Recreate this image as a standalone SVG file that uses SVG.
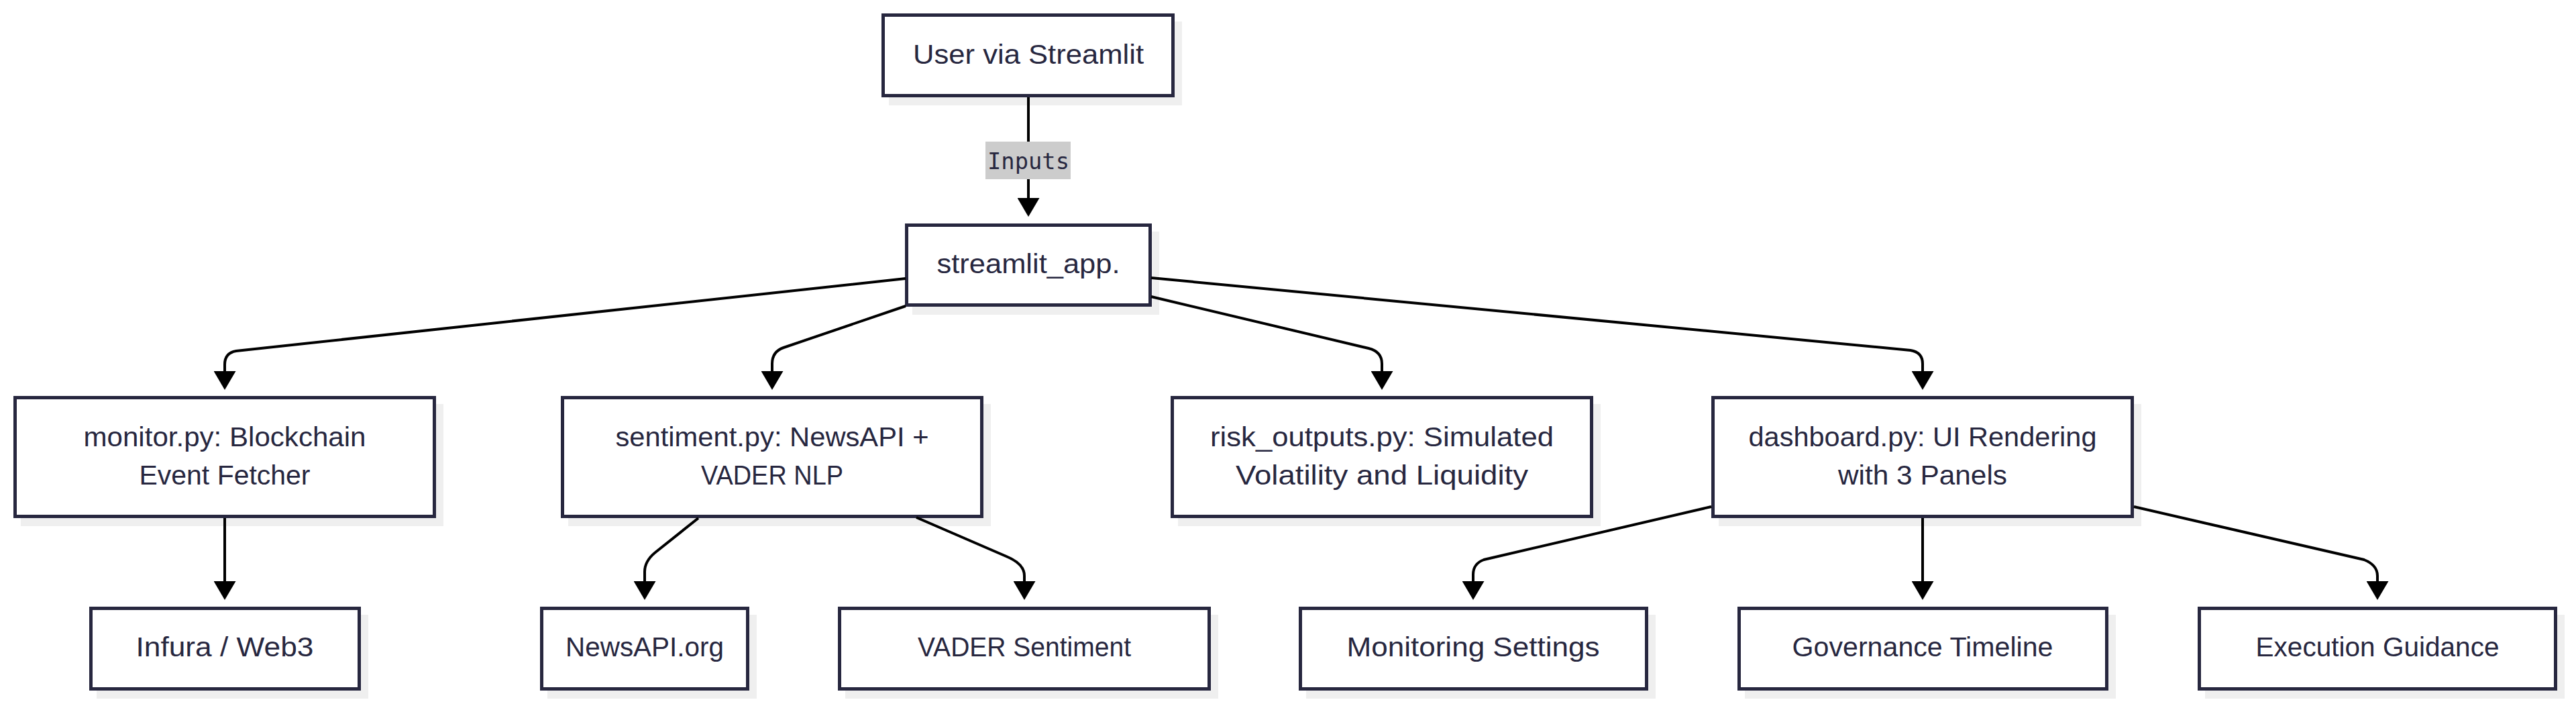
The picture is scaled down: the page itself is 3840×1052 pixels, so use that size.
<svg xmlns="http://www.w3.org/2000/svg" width="3840" height="1052" viewBox="0 0 3840 1052">
<defs>
<marker id="arrow" viewBox="0 0 28 33" refX="8" refY="16.5" markerWidth="28" markerHeight="33" markerUnits="userSpaceOnUse" orient="auto">
<path d="M0,0 L28,16.5 L0,33 z" fill="#000"/>
</marker>
</defs>
<style>
.shadow{fill:#efefef;stroke:none}
.box{fill:#ffffff;stroke:#27273f;stroke-width:5}
.lbl{font-family:"Liberation Sans",Arial,sans-serif;font-size:41px;fill:#27273f;text-anchor:middle}
.edge{fill:none;stroke:#000;stroke-width:4;marker-end:url(#arrow)}
.elbg{fill:#cccccc}
.eltxt{font-family:"DejaVu Sans Mono","Liberation Mono",monospace;font-size:34px;fill:#27273f;text-anchor:middle}
</style>
<rect width="3840" height="1052" fill="#ffffff"/>

<g id="user">
<rect class="shadow" x="1325" y="32" width="437" height="125"/>
<rect class="box" x="1316.5" y="22.5" width="432" height="120"/>
<text class="lbl" x="1533" y="95" textLength="344" lengthAdjust="spacingAndGlyphs">User via Streamlit</text>
</g>

<g id="streamlit_app">
<rect class="shadow" x="1360" y="345" width="368" height="124"/>
<rect class="box" x="1351.5" y="335.5" width="363" height="119"/>
<text class="lbl" x="1533" y="407" textLength="273" lengthAdjust="spacingAndGlyphs">streamlit_app.</text>
</g>

<g id="monitor">
<rect class="shadow" x="31" y="602" width="630" height="182"/>
<rect class="box" x="22.5" y="592.5" width="625" height="177"/>
<text class="lbl" x="335" y="665" textLength="421" lengthAdjust="spacingAndGlyphs">monitor.py: Blockchain</text>
<text class="lbl" x="335" y="722" textLength="255" lengthAdjust="spacingAndGlyphs">Event Fetcher</text>
</g>

<g id="sentiment">
<rect class="shadow" x="847" y="602" width="630" height="182"/>
<rect class="box" x="838.5" y="592.5" width="625" height="177"/>
<text class="lbl" x="1151" y="665" textLength="467" lengthAdjust="spacingAndGlyphs">sentiment.py: NewsAPI +</text>
<text class="lbl" x="1151" y="722" textLength="212" lengthAdjust="spacingAndGlyphs">VADER NLP</text>
</g>

<g id="risk">
<rect class="shadow" x="1756" y="602" width="630" height="182"/>
<rect class="box" x="1747.5" y="592.5" width="625" height="177"/>
<text class="lbl" x="2060" y="665" textLength="512" lengthAdjust="spacingAndGlyphs">risk_outputs.py: Simulated</text>
<text class="lbl" x="2060" y="722" textLength="436" lengthAdjust="spacingAndGlyphs">Volatility and Liquidity</text>
</g>

<g id="dashboard">
<rect class="shadow" x="2562" y="602" width="630" height="182"/>
<rect class="box" x="2553.5" y="592.5" width="625" height="177"/>
<text class="lbl" x="2866" y="665" textLength="519" lengthAdjust="spacingAndGlyphs">dashboard.py: UI Rendering</text>
<text class="lbl" x="2866" y="722" textLength="252" lengthAdjust="spacingAndGlyphs">with 3 Panels</text>
</g>

<g id="infura">
<rect class="shadow" x="144" y="916" width="405" height="125"/>
<rect class="box" x="135.5" y="906.5" width="400" height="120"/>
<text class="lbl" x="335" y="978" textLength="265" lengthAdjust="spacingAndGlyphs">Infura / Web3</text>
</g>

<g id="newsapi">
<rect class="shadow" x="816" y="916" width="312" height="125"/>
<rect class="box" x="807.5" y="906.5" width="307" height="120"/>
<text class="lbl" x="961" y="978" textLength="236" lengthAdjust="spacingAndGlyphs">NewsAPI.org</text>
</g>

<g id="vader">
<rect class="shadow" x="1260" y="916" width="556" height="125"/>
<rect class="box" x="1251.5" y="906.5" width="551" height="120"/>
<text class="lbl" x="1527" y="978" textLength="318" lengthAdjust="spacingAndGlyphs">VADER Sentiment</text>
</g>

<g id="monitoring_settings">
<rect class="shadow" x="1947" y="916" width="521" height="125"/>
<rect class="box" x="1938.5" y="906.5" width="516" height="120"/>
<text class="lbl" x="2196" y="978" textLength="377" lengthAdjust="spacingAndGlyphs">Monitoring Settings</text>
</g>

<g id="governance_timeline">
<rect class="shadow" x="2601" y="916" width="553" height="125"/>
<rect class="box" x="2592.5" y="906.5" width="548" height="120"/>
<text class="lbl" x="2866" y="978" textLength="389" lengthAdjust="spacingAndGlyphs">Governance Timeline</text>
</g>

<g id="execution_guidance">
<rect class="shadow" x="3287" y="916" width="536" height="125"/>
<rect class="box" x="3278.5" y="906.5" width="531" height="120"/>
<text class="lbl" x="3544" y="978" textLength="363" lengthAdjust="spacingAndGlyphs">Execution Guidance</text>
</g>

<g id="connectors">
<path class="edge" d="M1533,145 L1533,303"/>
<path class="edge" d="M1350,415 L352,523 Q335,526 335,543 L335,561"/>
<path class="edge" d="M1350,456 L1168,518 Q1151,524 1151,542 L1151,561"/>
<path class="edge" d="M1716,442 L2040,519 Q2060,524 2060,542 L2060,561"/>
<path class="edge" d="M1716,414 L2848,522 Q2866,525 2866,542 L2866,561"/>
<path class="edge" d="M335,772 L335,874"/>
<path class="edge" d="M1041,772 L977,823 Q961,836 961,852 L961,874"/>
<path class="edge" d="M1366,771 L1500,829 Q1527,840 1527,858 L1527,874"/>
<path class="edge" d="M2551,755 L2212,834 Q2196,840 2196,856 L2196,874"/>
<path class="edge" d="M2866,772 L2866,874"/>
<path class="edge" d="M3181,755 L3524,834 Q3544,842 3544,858 L3544,874"/>
<g id="label-inputs">
<rect class="elbg" x="1469" y="211" width="127" height="56"/>
<text class="eltxt" x="1533" y="252" textLength="122" lengthAdjust="spacingAndGlyphs">Inputs</text>
</g>
</g>
</svg>
